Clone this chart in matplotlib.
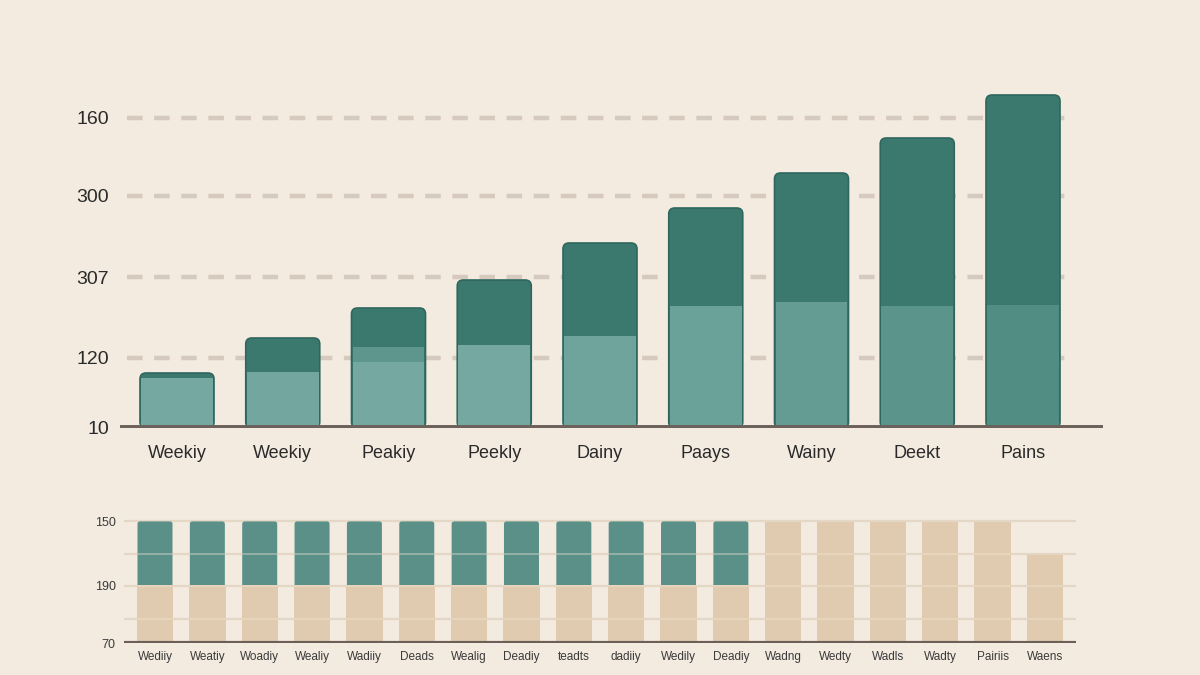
import matplotlib
matplotlib.use("Agg")
import matplotlib.pyplot as plt
from matplotlib.patches import FancyBboxPatch
import numpy as np

plt.rcParams['font.family'] = ['Liberation Sans', 'DejaVu Sans']

# ---------------- data ----------------
top_labels = ["Weekiy", "Weekiy", "Peakiy", "Peekly", "Dainy", "Paays", "Wainy", "Deekt", "Pains"]
top_light = [50, 56, 66, 83, 92, 122, 126, 122, 123]
top_mid = [0, 0, 15, 0, 0, 0, 0, 0, 0]
top_total = [55, 90, 120, 148, 185, 220, 255, 290, 333]
top_tick_pos = [0, 70, 151, 232, 310]
top_tick_labels = ["10", "120", "307", "300", "160"]

bottom_labels = ["Wediiy", "Weatiy", "Woadiy", "Wealiy", "Wadiiy", "Deads", "Wealig", "Deadiy",
                 "teadts", "dadiiy", "Wedily", "Deadiy", "Wadng", "Wedty", "Wadls", "Wadty",
                 "Pairiis", "Waens"]
bottom_beige = [58] * 12 + [121, 121, 121, 121, 121, 89]
bottom_teal = [64] * 12 + [0] * 6
bottom_grid = [24, 57, 89, 122]
bottom_tick_pos = [0, 57, 122]
bottom_tick_labels = ["70", "190", "150"]

# ---------------- style ----------------
BG = "#f3ebe0"
DARK = "#3b786e"
LIGHT = ["#74a8a0", "#72a69e", "#74a8a0", "#74a8a0", "#6ea49c", "#6aa198", "#649c93", "#5b948b", "#528d84"]
MID = "#5e968d"
TEAL2 = "#5a9088"
BEIGE = "#e0cbb0"
TXT = "#2a2a2a"

W, H = 1200, 675
fig = plt.figure(figsize=(12, 6.75), dpi=100, facecolor=BG)


def round_bars(axis, container, radius_px, px_per_xunit):
    """Replace the bar rectangles of a container by rounded boxes of the same bounds."""
    for rect in container.patches:
        if rect.get_height() <= 0:
            rect.remove()
            continue
        x, y = rect.get_x(), rect.get_y()
        w, h = rect.get_width(), rect.get_height()
        fb = FancyBboxPatch((x, y), w, h,
                            boxstyle=f"round,pad=0,rounding_size={radius_px / px_per_xunit}",
                            mutation_aspect=px_per_xunit,
                            facecolor=rect.get_facecolor(), edgecolor=rect.get_edgecolor(),
                            linewidth=rect.get_linewidth(), zorder=rect.get_zorder())
        rect.remove()
        axis.add_patch(fb)


# ---------------- top chart ----------------
x0_px, x1_px, base_px, top_px = 120, 1103, 428, 90
ax = fig.add_axes([x0_px / W, (H - base_px) / H, (x1_px - x0_px) / W, (base_px - top_px) / H])
ax.set_facecolor("none")
step = 105.75
xs = np.arange(len(top_labels))
ax.set_xlim(-(177 - x0_px) / step, len(xs) - 1 + (x1_px - 1023) / step)
ax.set_ylim(0, base_px - top_px)

light = np.array(top_light)
mid = np.array(top_mid)
total = np.array(top_total)
bw = 74 / step
# grid
xmin_frac = (127 - x0_px) / (x1_px - x0_px)
xmax_frac = (1070 - x0_px) / (x1_px - x0_px)
for yv in top_tick_pos[1:]:
    ax.axhline(yv, xmin=xmin_frac, xmax=xmax_frac, color="#d5cabd", lw=3.2,
               dashes=(3.5, 2.6), zorder=1)
dark_bars = ax.bar(xs, total, width=bw, color=DARK, edgecolor="#2f675e", lw=1.2, zorder=3)
round_bars(ax, dark_bars, 6, step)
ax.bar(xs, mid, bottom=light, width=bw * 0.97, color=MID, lw=0, zorder=4)
ax.bar(xs, light, width=bw * 0.97, color=LIGHT, lw=0, zorder=4)
ax.axhline(0, color="#6d625b", lw=5, solid_capstyle="round", zorder=5)

ax.set_yticks(top_tick_pos)
ax.set_yticklabels(top_tick_labels, fontsize=14, color=TXT)
ax.set_xticks(xs)
ax.set_xticklabels(top_labels, fontsize=13, color=TXT)
ax.tick_params(axis="both", length=0)
ax.tick_params(axis="y", pad=8)
ax.tick_params(axis="x", pad=12)
for s in ax.spines.values():
    s.set_visible(False)

# ---------------- bottom chart ----------------
bx0, bx1, bbase, btop = 124, 1076, 643, 515
bx = fig.add_axes([bx0 / W, (H - bbase) / H, (bx1 - bx0) / W, (bbase - btop) / H])
bx.set_facecolor("none")
bstep = 52.35
xb = np.arange(len(bottom_labels))
bx.set_xlim(-(155 - bx0) / bstep, len(xb) - 1 + (bx1 - 1045) / bstep)
bx.set_ylim(0, bbase - btop)
bbw = 35 / bstep
beige = np.array(bottom_beige)
teal = np.array(bottom_teal)
for yv in bottom_grid:
    bx.axhline(yv, color="#ddd0bf", lw=1.6, zorder=1)
# teal part starts a little below the beige top so the rounded lower corners stay hidden
teal_bars = bx.bar(xb, np.where(teal > 0, teal + 8, 0), bottom=beige - 8, width=bbw,
                   color=TEAL2, lw=0, zorder=2)
round_bars(bx, teal_bars, 3, bstep)
bx.bar(xb, beige, width=bbw * 1.04, color=BEIGE, lw=0, zorder=3)
for yv in bottom_grid:
    bx.axhline(yv, color="#f0e4d4", lw=1.2, alpha=0.45, zorder=4)
bx.axhline(0, color="#6b5f57", lw=3, zorder=5)

bx.set_yticks(bottom_tick_pos)
bx.set_yticklabels(bottom_tick_labels, fontsize=9, color="#3a3a3a")
bx.set_xticks(xb)
bx.set_xticklabels(bottom_labels, fontsize=8.5, color="#3a3a3a")
bx.tick_params(axis="both", length=0)
bx.tick_params(axis="y", pad=6)
bx.tick_params(axis="x", pad=6)
for s in bx.spines.values():
    s.set_visible(False)

fig.savefig("out.png", dpi=100, facecolor=BG)
